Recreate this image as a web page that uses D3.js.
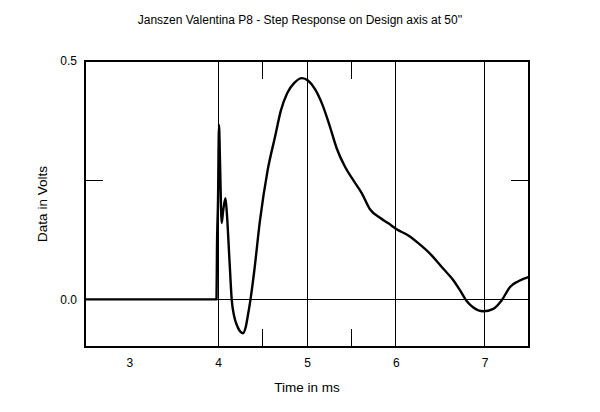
<!DOCTYPE html>
<html><head><meta charset="utf-8">
<script src="https://cdn.jsdelivr.net/npm/d3@7"></script>
<style>body{margin:0;background:#fff}svg{display:block}text{font-family:"Liberation Sans",Arial,sans-serif;fill:#000}</style>
</head><body><svg id="c" width="600" height="412"></svg>
<script>
const title = "Janszen Valentina P8 - Step Response on Design axis at 50''";
const xLabel = "Time in ms";
const yLabel = "Data in Volts";
const xTicks = [3, 4, 5, 6, 7];
const xGrid = [4, 5, 6, 7];
const xMinor = [4.5, 5.5];
const yTickLabels = [0.0, 0.5];
const yMinor = [0.25];
const timeMs = [2.5, 3.981, 3.986, 3.998, 4.009, 4.020, 4.039, 4.054, 4.082, 4.099, 4.127, 4.152, 4.178, 4.212, 4.245, 4.279, 4.31, 4.335, 4.364,
  4.407, 4.471, 4.557, 4.640, 4.707, 4.778, 4.857, 4.944, 5.011, 5.090, 5.170, 5.259, 5.334, 5.428, 5.521, 5.616, 5.709, 5.822, 5.912,
  6.010, 6.141, 6.253, 6.385, 6.535, 6.648, 6.720, 6.800, 6.873, 6.985, 7.098, 7.193, 7.286, 7.380, 7.5];
const volts = [0, 0, 0.103, 0.208, 0.366, 0.292, 0.160, 0.183, 0.212, 0.176, 0.082, 0, -0.034, -0.055, -0.067, -0.071, -0.058, -0.033, 0,
  0.061, 0.166, 0.271, 0.341, 0.397, 0.433, 0.454, 0.464, 0.459, 0.441, 0.410, 0.362, 0.317, 0.278, 0.250, 0.223, 0.189, 0.171, 0.160,
  0.147, 0.134, 0.118, 0.096, 0.064, 0.040, 0.020, -0.004, -0.017, -0.025, -0.020, -0.002, 0.026, 0.038, 0.047];

const svg = d3.select("#c");
const L = 85, R = 529, T = 61, B = 347;
const x = d3.scaleLinear().domain([2.5, 7.5]).range([L, R]);
const y = d3.scaleLinear().domain([-0.1, 0.5]).range([B, T]);

svg.append("text").attr("x", 300).attr("y", 24).attr("text-anchor", "middle").style("font-size", "12px").text(title);

const g = svg.append("g");
g.selectAll(".vg").data(xGrid).join("line").attr("x1", d => x(d)).attr("x2", d => x(d)).attr("y1", T).attr("y2", B).attr("stroke", "#000").attr("stroke-width", 1).attr("shape-rendering", "crispEdges");
xMinor.forEach(v => {
  g.append("line").attr("x1", x(v)).attr("x2", x(v)).attr("y1", T).attr("y2", T + 18).attr("stroke", "#000").attr("shape-rendering", "crispEdges");
  g.append("line").attr("x1", x(v)).attr("x2", x(v)).attr("y1", B - 18).attr("y2", B).attr("stroke", "#000").attr("shape-rendering", "crispEdges");
});
g.append("line").attr("x1", L).attr("x2", R).attr("y1", y(0)).attr("y2", y(0)).attr("stroke", "#000").attr("shape-rendering", "crispEdges");
yMinor.forEach(v => {
  g.append("line").attr("x1", L).attr("x2", L + 18).attr("y1", y(v)).attr("y2", y(v)).attr("stroke", "#000").attr("shape-rendering", "crispEdges");
  g.append("line").attr("x1", R - 18).attr("x2", R).attr("y1", y(v)).attr("y2", y(v)).attr("stroke", "#000").attr("shape-rendering", "crispEdges");
});

const pts = timeMs.map((t, i) => [t, volts[i]]);
svg.append("path").datum(pts).attr("fill", "none").attr("stroke", "#000").attr("stroke-width", 2.4).attr("stroke-linejoin", "round")
  .attr("d", d3.line().x(d => x(d[0])).y(d => y(d[1])).curve(d3.curveMonotoneX));

svg.append("rect").attr("x", L).attr("y", T).attr("width", R - L).attr("height", B - T).attr("fill", "none").attr("stroke", "#000").attr("stroke-width", 2);

const xa = d3.axisBottom(x).tickValues(xTicks).tickFormat(d3.format("d")).tickSize(0).tickPadding(11);
const xg = svg.append("g").attr("transform", `translate(0,${B})`).call(xa);
xg.select(".domain").remove();
xg.selectAll("text").style("font-size", "12px").style("font-family", "'Liberation Sans',Arial,sans-serif");
const ya = d3.axisLeft(y).tickValues(yTickLabels).tickFormat(d3.format(".1f")).tickSize(0).tickPadding(8);
const yg = svg.append("g").attr("transform", `translate(${L},0)`).call(ya);
yg.select(".domain").remove();
yg.selectAll("text").style("font-size", "12px").style("font-family", "'Liberation Sans',Arial,sans-serif");

svg.append("text").attr("x", x(5)).attr("y", 392).attr("text-anchor", "middle").style("font-size", "13.5px").text(xLabel);
svg.append("text").attr("transform", `translate(47,${(T + B) / 2}) rotate(-90)`).attr("text-anchor", "middle").style("font-size", "13.5px").text(yLabel);
</script></body></html>
